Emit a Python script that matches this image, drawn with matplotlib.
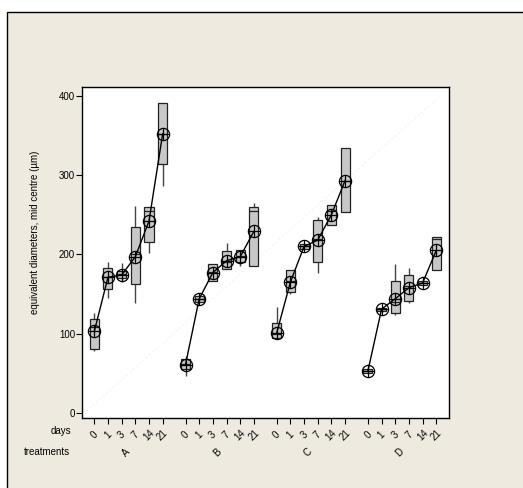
import matplotlib
matplotlib.use("Agg")
import matplotlib.pyplot as plt
from matplotlib.patches import Rectangle
import numpy as np

plt.rcParams['font.family'] = ['Liberation Sans', 'DejaVu Sans']

# ---- data -------------------------------------------------------------
days = ["0", "1", "3", "7", "14", "21"]
treatments = ["A", "B", "C", "D"]

mean_A = [103, 171, 174, 197, 242, 352]
mean_B = [61, 144, 177, 192, 197, 229]
mean_C = [101, 165, 210, 218, 250, 293]
mean_D = [53, 131, 144, 158, 164, 205]

median_A = [108, 172, 175, 200, 255, 352]
median_B = [62, 144, 178, 190, 198, 255]
median_C = [100, 166, 210, 220, 255, 293]
median_D = [53, 131, 140, 160, 164, 220]

q1_A = [81, 156, 170, 163, 216, 314]
q1_B = [55, 140, 166, 182, 190, 185]
q1_C = [95, 152, 207, 191, 237, 253]
q1_D = [51, 129, 126, 141, 162, 180]

q3_A = [119, 183, 179, 235, 260, 391]
q3_B = [68, 147, 188, 204, 205, 260]
q3_C = [113, 180, 213, 243, 262, 334]
q3_D = [55, 133, 166, 174, 166, 222]

low_A = [78, 145, 165, 139, 202, 286]
low_B = [47, 140, 166, 182, 185, 185]
low_C = [94, 150, 207, 177, 237, 253]
low_D = [51, 129, 124, 139, 162, 180]

high_A = [126, 190, 189, 261, 260, 391]
high_B = [72, 147, 188, 214, 206, 265]
high_C = [134, 180, 213, 247, 262, 334]
high_D = [55, 133, 188, 183, 166, 222]

means = [mean_A, mean_B, mean_C, mean_D]
medians = [median_A, median_B, median_C, median_D]
q1s = [q1_A, q1_B, q1_C, q1_D]
q3s = [q3_A, q3_B, q3_C, q3_D]
lows = [low_A, low_B, low_C, low_D]
highs = [high_A, high_B, high_C, high_D]

# ---- layout -----------------------------------------------------------
W, H = 523, 488
fig = plt.figure(figsize=(W / 100, H / 100), dpi=100)
fig.patch.set_facecolor("white")

panel = Rectangle((7 / W, -0.01), 1.0, (H - 12) / H + 0.01, transform=fig.transFigure,
                  facecolor="#eeeae0", edgecolor="black", linewidth=1.0, zorder=-5)
fig.patches.append(panel)

ax_l, ax_r, ax_t, ax_b = 82, 449, 87, 418
ax = fig.add_axes([ax_l / W, (H - ax_b) / H, (ax_r - ax_l) / W, (ax_b - ax_t) / H])
ax.set_zorder(1)
ax.set_facecolor("white")

group_step = 6.67
box_w = 0.66
positions = []

# faint diagonal guide line
ax.plot([-0.6, 25.0], [2, 395], color="#f3f3f3", lw=0.8, ls=(0, (2, 2)), zorder=0.5)

for g in range(len(treatments)):
    xs = [g * group_step + k for k in range(len(days))]
    positions.extend(xs)
    for k, x in enumerate(xs):
        lo, hi = lows[g][k], highs[g][k]
        b1, b3 = q1s[g][k], q3s[g][k]
        ax.vlines(x, hi, b3, color="#444444", lw=1.0, zorder=2)
        ax.vlines(x, lo, b1, color="#444444", lw=1.0, zorder=2)
        ax.add_patch(Rectangle((x - box_w / 2, b1), box_w, b3 - b1,
                               facecolor="#c8c8c8", edgecolor="#222222",
                               lw=0.9, zorder=3))
        ax.hlines(medians[g][k], x - box_w / 2, x + box_w / 2,
                  color="#222222", lw=0.9, zorder=4)
    ax.plot(xs, means[g], color="black", lw=1.0, zorder=5)
    ax.plot(xs, means[g], ls="none", marker="o", ms=8.8, mfc="none",
            mec="black", mew=0.9, zorder=6)
    ax.plot(xs, means[g], ls="none", marker="+", ms=8.8, mec="black",
            mew=0.9, zorder=6)

ax.set_xlim(-0.9, 3 * group_step + 5 + 0.93)
ax.set_ylim(-6.3, 411)

ax.set_yticks([0, 100, 200, 300, 400])
ax.set_xticks(positions)
ax.set_xticklabels(days * len(treatments), rotation=45, ha="center",
                   va="center", fontsize=7)
ax.tick_params(axis="x", length=4, width=0.8, pad=8, direction="out")
ax.tick_params(axis="y", length=4, width=0.8, pad=1, labelsize=7, direction="out")
for s in ax.spines.values():
    s.set_linewidth(1.0)
    s.set_color("black")

# row labels below the axis
fig.text(71 / W, 1 - 431 / H, "days", ha="right", va="center", fontsize=7)
fig.text(70 / W, 1 - 452 / H, "treatments", ha="right", va="center", fontsize=7)
for g, t in enumerate(treatments):
    xc = g * group_step + 2.3
    ax.text(xc, -0.105, t, transform=ax.get_xaxis_transform(), rotation=45,
            ha="center", va="center", fontsize=7)

fig.text(35 / W, 1 - 232 / H, "equivalent diameters, mid centre (\u00b5m)",
         rotation=90, ha="center", va="center", fontsize=7)

fig.savefig("out.png", dpi=100, facecolor=fig.get_facecolor())
